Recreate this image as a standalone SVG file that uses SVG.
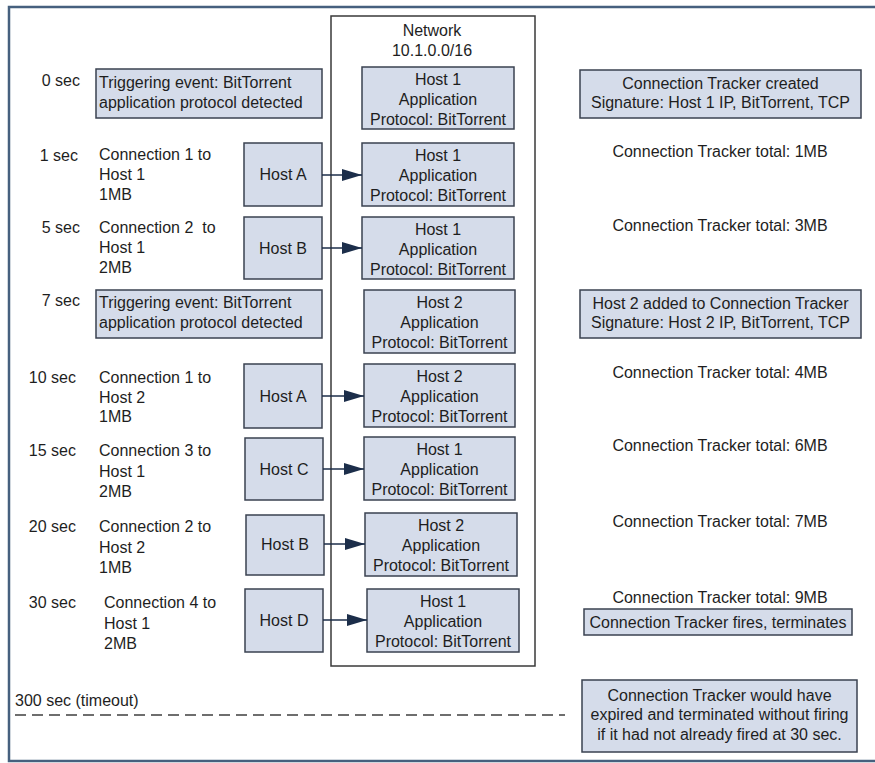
<svg xmlns="http://www.w3.org/2000/svg" width="875" height="763" viewBox="0 0 875 763">
<defs>
<style>
text{font-family:"Liberation Sans",Arial,sans-serif;font-size:16px;fill:#1e1e1e}
.c{text-anchor:middle}
.e{text-anchor:end}
.box{fill:#d5dcea;stroke:#3a4250;stroke-width:1.5}
.net{fill:#ffffff;stroke:#3a3a3a;stroke-width:1.5}
.arr{stroke:#1c2e4a;stroke-width:1.5;fill:none}
</style>
<marker id="ah" viewBox="0 0 10 10" refX="10" refY="5" markerUnits="userSpaceOnUse" markerWidth="20" markerHeight="12" orient="auto" preserveAspectRatio="none">
<path d="M0,0 L10,5 L0,10 z" fill="#1c2e4a"/>
</marker>
</defs>
<rect x="0" y="0" width="875" height="763" fill="#ffffff"/>
<rect id="frame" x="9" y="7" width="880" height="754" fill="none" stroke="#46607e" stroke-width="2.5"/>

<g id="network">
<rect class="net" x="331" y="16" width="204" height="650"/>
<text class="c" x="432" y="36">Network</text>
<text class="c" x="432" y="56">10.1.0.0/16</text>
</g>

<g id="times">
<text class="e" x="80" y="86">0 sec</text>
<text class="e" x="78" y="161">1 sec</text>
<text class="e" x="80" y="233">5 sec</text>
<text class="e" x="80" y="306">7 sec</text>
<text class="e" x="76" y="383">10 sec</text>
<text class="e" x="76" y="456">15 sec</text>
<text class="e" x="76" y="532">20 sec</text>
<text class="e" x="76" y="608">30 sec</text>
</g>

<g id="event1">
<rect class="box" x="96" y="69" width="226" height="49"/>
<text x="99" y="88">Triggering event: BitTorrent</text>
<text x="99" y="108">application protocol detected</text>
</g>
<g id="event2">
<rect class="box" x="96" y="290" width="226" height="48"/>
<text x="99" y="308">Triggering event: BitTorrent</text>
<text x="99" y="328">application protocol detected</text>
</g>

<g id="conn1"><text x="99" y="160">Connection 1 to</text><text x="99" y="180">Host 1</text><text x="99" y="200">1MB</text></g>
<g id="conn2"><text x="99" y="233" xml:space="preserve">Connection 2  to</text><text x="99" y="253">Host 1</text><text x="99" y="273">2MB</text></g>
<g id="conn3"><text x="99" y="383">Connection 1 to</text><text x="99" y="403">Host 2</text><text x="99" y="422">1MB</text></g>
<g id="conn4"><text x="99" y="456">Connection 3 to</text><text x="99" y="477">Host 1</text><text x="99" y="497">2MB</text></g>
<g id="conn5"><text x="99" y="532">Connection 2 to</text><text x="99" y="553">Host 2</text><text x="99" y="573">1MB</text></g>
<g id="conn6"><text x="104" y="608">Connection 4 to</text><text x="104" y="629">Host 1</text><text x="104" y="649">2MB</text></g>

<g id="hostA1"><rect class="box" x="244" y="143" width="78" height="63"/><text class="c" x="283" y="180">Host A</text></g>
<g id="hostB1"><rect class="box" x="244" y="217" width="78" height="62"/><text class="c" x="283" y="254">Host B</text></g>
<g id="hostA2"><rect class="box" x="244" y="364" width="78" height="64"/><text class="c" x="283" y="402">Host A</text></g>
<g id="hostC"><rect class="box" x="245" y="438" width="78" height="62"/><text class="c" x="284" y="475">Host C</text></g>
<g id="hostB2"><rect class="box" x="246" y="515" width="78" height="60"/><text class="c" x="285" y="550">Host B</text></g>
<g id="hostD"><rect class="box" x="245" y="589" width="78" height="63"/><text class="c" x="284" y="626">Host D</text></g>

<g id="net1"><rect class="box" x="362" y="67" width="152" height="62"/><text class="c" x="438" y="85">Host 1</text><text class="c" x="438" y="105">Application</text><text class="c" x="438" y="125">Protocol: BitTorrent</text></g>
<g id="net2"><rect class="box" x="362" y="143" width="152" height="63"/><text class="c" x="438" y="161">Host 1</text><text class="c" x="438" y="181">Application</text><text class="c" x="438" y="201">Protocol: BitTorrent</text></g>
<g id="net3"><rect class="box" x="362" y="217" width="152" height="62"/><text class="c" x="438" y="235">Host 1</text><text class="c" x="438" y="255">Application</text><text class="c" x="438" y="275">Protocol: BitTorrent</text></g>
<g id="net4"><rect class="box" x="364" y="290" width="151" height="63"/><text class="c" x="439.5" y="308">Host 2</text><text class="c" x="439.5" y="328">Application</text><text class="c" x="439.5" y="348">Protocol: BitTorrent</text></g>
<g id="net5"><rect class="box" x="364" y="364" width="151" height="63"/><text class="c" x="439.5" y="382">Host 2</text><text class="c" x="439.5" y="402">Application</text><text class="c" x="439.5" y="422">Protocol: BitTorrent</text></g>
<g id="net6"><rect class="box" x="364" y="437" width="151" height="63"/><text class="c" x="439.5" y="455">Host 1</text><text class="c" x="439.5" y="475">Application</text><text class="c" x="439.5" y="495">Protocol: BitTorrent</text></g>
<g id="net7"><rect class="box" x="365" y="513" width="152" height="63"/><text class="c" x="441" y="531">Host 2</text><text class="c" x="441" y="551">Application</text><text class="c" x="441" y="571">Protocol: BitTorrent</text></g>
<g id="net8"><rect class="box" x="367" y="589" width="152" height="63"/><text class="c" x="443" y="607">Host 1</text><text class="c" x="443" y="627">Application</text><text class="c" x="443" y="647">Protocol: BitTorrent</text></g>

<g id="connectors">
<line class="arr" x1="322" y1="175" x2="362" y2="175" marker-end="url(#ah)"/>
<line class="arr" x1="322" y1="248" x2="362" y2="248" marker-end="url(#ah)"/>
<line class="arr" x1="322" y1="396" x2="364" y2="396" marker-end="url(#ah)"/>
<line class="arr" x1="323" y1="469" x2="364" y2="469" marker-end="url(#ah)"/>
<line class="arr" x1="324" y1="544" x2="365" y2="544" marker-end="url(#ah)"/>
<line class="arr" x1="323" y1="620" x2="367" y2="620" marker-end="url(#ah)"/>
</g>

<g id="tracker1"><rect class="box" x="580" y="70" width="281" height="48"/><text class="c" x="720.5" y="89">Connection Tracker created</text><text class="c" x="720.5" y="108">Signature: Host 1 IP, BitTorrent, TCP</text></g>
<g id="total1"><text class="c" x="720" y="157">Connection Tracker total: 1MB</text></g>
<g id="total3"><text class="c" x="720" y="231">Connection Tracker total: 3MB</text></g>
<g id="tracker2"><rect class="box" x="580" y="290" width="281" height="48"/><text class="c" x="720.5" y="309">Host 2 added to Connection Tracker</text><text class="c" x="720.5" y="328">Signature: Host 2 IP, BitTorrent, TCP</text></g>
<g id="total4"><text class="c" x="720" y="378">Connection Tracker total: 4MB</text></g>
<g id="total6"><text class="c" x="720" y="451">Connection Tracker total: 6MB</text></g>
<g id="total7"><text class="c" x="720" y="527">Connection Tracker total: 7MB</text></g>
<g id="total9"><text class="c" x="720" y="603">Connection Tracker total: 9MB</text></g>
<g id="fires"><rect class="box" x="584" y="609" width="268" height="26"/><text class="c" x="718" y="628">Connection Tracker fires, terminates</text></g>

<g id="timeout">
<text x="15" y="706">300 sec (timeout)</text>
<line x1="15" y1="715" x2="565" y2="715" stroke="#6e6e6e" stroke-width="2" stroke-dasharray="11 6"/>
</g>
<g id="expired"><rect class="box" x="582" y="680" width="275" height="72"/><text class="c" x="719.5" y="701">Connection Tracker would have</text><text class="c" x="719.5" y="720">expired and terminated without firing</text><text class="c" x="719.5" y="740">if it had not already fired at 30 sec.</text></g>
</svg>
